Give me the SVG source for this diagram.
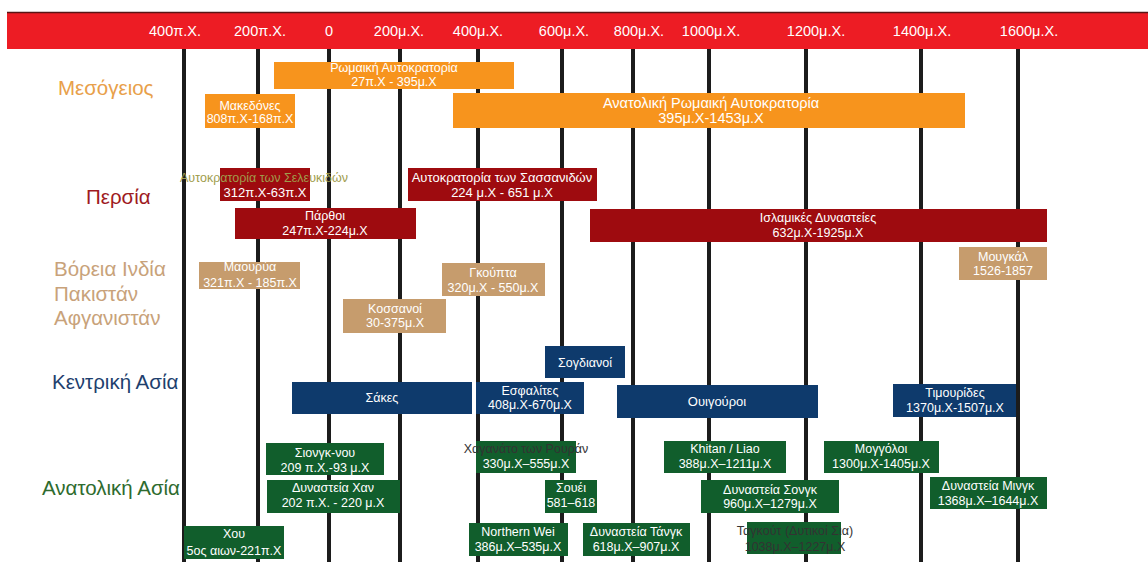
<svg xmlns="http://www.w3.org/2000/svg" width="1148" height="562" viewBox="0 0 1148 562">
<style>
text{font-family:"Liberation Sans","DejaVu Sans",sans-serif;text-anchor:middle}
.hd{fill:#fff;font-size:14.5px}
.cat{font-size:20.5px;text-anchor:start}
.w{fill:#fff;font-size:12.5px}
.wl{fill:#fff;font-size:14.5px}
.wm{fill:#fff;font-size:13px}
.dk{fill:#333;font-size:12.5px}
.ol{fill:#A09C4C;font-size:12.5px}
.o{fill:#F7941D}
.r{fill:#9E0B0F}
.t{fill:#C69C6D}
.b{fill:#0E3A6C}
.g{fill:#115E2C}
.grid line{stroke:#1c1c1c;stroke-width:4}
</style>
<rect width="1148" height="562" fill="#fff"/>
<g id="header">
<rect x="7" y="12" width="1141" height="37" fill="#ED1C24"/>
<line x1="7" y1="12.5" x2="1148" y2="12.5" stroke="#5a1414" stroke-width="1.5"/>
<text class="hd" x="175" y="36">400π.Χ.</text>
<text class="hd" x="260" y="36">200π.Χ.</text>
<text class="hd" x="329" y="36">0</text>
<text class="hd" x="399" y="36">200μ.Χ.</text>
<text class="hd" x="478" y="36">400μ.Χ.</text>
<text class="hd" x="564" y="36">600μ.Χ.</text>
<text class="hd" x="639" y="36">800μ.Χ.</text>
<text class="hd" x="711" y="36">1000μ.Χ.</text>
<text class="hd" x="816" y="36">1200μ.Χ.</text>
<text class="hd" x="922" y="36">1400μ.Χ.</text>
<text class="hd" x="1029" y="36">1600μ.Χ.</text>
</g>
<g id="gridlines" class="grid">
<line x1="184" y1="49" x2="184" y2="562"/>
<line x1="258" y1="49" x2="258" y2="562"/>
<line x1="329" y1="49" x2="329" y2="562"/>
<line x1="400" y1="49" x2="400" y2="562"/>
<line x1="478" y1="49" x2="478" y2="562"/>
<line x1="562" y1="49" x2="562" y2="562"/>
<line x1="633" y1="49" x2="633" y2="562"/>
<line x1="709" y1="49" x2="709" y2="562"/>
<line x1="806" y1="49" x2="806" y2="562"/>
<line x1="921" y1="49" x2="921" y2="562"/>
<line x1="1018" y1="49" x2="1018" y2="562"/>
</g>
<g id="categories">
<text class="cat" x="58" y="95" fill="#E8A04A">Μεσόγειος</text>
<text class="cat" x="86" y="204" fill="#9E1B1E">Περσία</text>
<text class="cat" x="54" y="276" fill="#C8A27A">Βόρεια Ινδία</text>
<text class="cat" x="54" y="301" fill="#C8A27A">Πακιστάν</text>
<text class="cat" x="54" y="325" fill="#C8A27A">Αφγανιστάν</text>
<text class="cat" x="52" y="389" fill="#1E3F6E">Κεντρική Ασία</text>
<text class="cat" x="42" y="495" fill="#2E6B2E">Ανατολική Ασία</text>
</g>
<g id="romaiki"><rect class="o" x="274" y="62" width="240" height="27"/><text class="w" x="394" y="72">Ρωμαική Αυτοκρατορία</text><text class="w" x="394" y="86">27π.Χ - 395μ.Χ</text></g>
<g id="makedones"><rect class="o" x="205" y="94" width="90" height="34"/><text class="w" x="250" y="110">Μακεδόνες</text><text class="w" x="250" y="123">808π.Χ-168π.Χ</text></g>
<g id="anatoliki-romaiki"><rect class="o" x="453" y="93" width="512" height="35"/><text class="wl" x="711" y="108">Ανατολική Ρωμαική Αυτοκρατορία</text><text class="wl" x="711" y="123">395μ.Χ-1453μ.Χ</text></g>
<g id="seleukides"><rect class="r" x="220" y="168" width="90" height="33"/><text class="ol" x="264" y="182">Αυτοκρατορία των Σελευκιδών</text><text class="wm" x="265" y="197">312π.Χ-63π.Χ</text></g>
<g id="sassanides"><rect class="r" x="408" y="168" width="189" height="33"/><text class="wm" x="502" y="182">Αυτοκρατορία των Σασσανιδών</text><text class="wm" x="502" y="197">224 μ.Χ - 651 μ.Χ</text></g>
<g id="parthoi"><rect class="r" x="235" y="208" width="181" height="31"/><text class="w" x="325" y="220">Πάρθοι</text><text class="w" x="325" y="235">247π.Χ-224μ.Χ</text></g>
<g id="islamikes"><rect class="r" x="590" y="209" width="457" height="33"/><text class="w" x="818" y="222">Ισλαμικές Δυναστείες</text><text class="w" x="818" y="237">632μ.Χ-1925μ.Χ</text></g>
<g id="maourya"><rect class="t" x="199" y="262" width="101" height="27"/><text class="w" x="250" y="271">Μαουρύα</text><text class="w" x="250" y="287">321π.Χ - 185π.Χ</text></g>
<g id="gkoupta"><rect class="t" x="442" y="263" width="103" height="33"/><text class="w" x="493" y="277">Γκούπτα</text><text class="w" x="493" y="292">320μ.Χ - 550μ.Χ</text></g>
<g id="kossanoi"><rect class="t" x="343" y="299" width="103" height="34"/><text class="w" x="395" y="313">Κοσσανοί</text><text class="w" x="395" y="327">30-375μ.Χ</text></g>
<g id="mougkal"><rect class="t" x="959" y="247" width="88" height="33"/><text class="w" x="1003" y="261">Μουγκάλ</text><text class="w" x="1003" y="275">1526-1857</text></g>
<g id="sogdianoi"><rect class="b" x="545" y="346" width="80" height="32"/><text class="w" x="585" y="367">Σογδιανοί</text></g>
<g id="sakes"><rect class="b" x="292" y="382" width="180" height="32"/><text class="w" x="382" y="402">Σάκες</text></g>
<g id="esfalites"><rect class="b" x="476" y="382" width="108" height="32"/><text class="w" x="530" y="395">Εσφαλίτες</text><text class="w" x="530" y="409">408μ.Χ-670μ.Χ</text></g>
<g id="ouigouroi"><rect class="b" x="617" y="385" width="201" height="33"/><text class="wm" x="717" y="406">Ουιγούροι</text></g>
<g id="timourides"><rect class="b" x="893" y="384" width="123" height="33"/><text class="w" x="955" y="397">Τιμουρίδες</text><text class="w" x="955" y="412">1370μ.Χ-1507μ.Χ</text></g>
<g id="siongk-nou"><rect class="g" x="266" y="443" width="118" height="32"/><text class="w" x="325" y="457">Σιονγκ-νου</text><text class="w" x="325" y="472">209 π.Χ.-93 μ.Χ</text></g>
<g id="chan"><rect class="g" x="267" y="480" width="133" height="33"/><text class="w" x="333" y="492">Δυναστεία Χαν</text><text class="w" x="333" y="507">202 π.Χ. - 220 μ.Χ</text></g>
<g id="chou"><rect class="g" x="184" y="526" width="100" height="33"/><text class="w" x="234" y="538">Χου</text><text class="w" x="234" y="555">5ος αιων-221π.Χ</text></g>
<g id="rouran"><rect class="g" x="476" y="441" width="100" height="32"/><text class="dk" x="526" y="453">Χαγανάτο των Ρουράν</text><text class="w" x="526" y="468">330μ.Χ–555μ.Χ</text></g>
<g id="souei"><rect class="g" x="545" y="480" width="52" height="33"/><text class="w" x="571" y="492">Σουέι</text><text class="w" x="571" y="507">581–618</text></g>
<g id="northern-wei"><rect class="g" x="469" y="523" width="99" height="33"/><text class="w" x="518" y="536">Northern Wei</text><text class="w" x="518" y="551">386μ.Χ–535μ.Χ</text></g>
<g id="tang"><rect class="g" x="583" y="523" width="107" height="33"/><text class="w" x="636" y="536">Δυναστεία Τάνγκ</text><text class="w" x="636" y="551">618μ.Χ–907μ.Χ</text></g>
<g id="khitan"><rect class="g" x="664" y="441" width="122" height="32"/><text class="w" x="725" y="453">Khitan / Liao</text><text class="w" x="725" y="468">388μ.Χ–1211μ.Χ</text></g>
<g id="songk"><rect class="g" x="701" y="480" width="138" height="33"/><text class="w" x="770" y="494">Δυναστεία Σονγκ</text><text class="w" x="770" y="508">960μ.Χ–1279μ.Χ</text></g>
<g id="tangkout"><rect class="g" x="747" y="522" width="94" height="32"/><text class="dk" x="795" y="535">Ταγκούτ (Δυτικοί Σια)</text><text class="dk" x="795" y="551">1038μ.Χ–1227μ.Χ</text></g>
<g id="moggoloi"><rect class="g" x="824" y="441" width="115" height="32"/><text class="w" x="881" y="453">Μογγόλοι</text><text class="w" x="881" y="468">1300μ.Χ-1405μ.Χ</text></g>
<g id="mingk"><rect class="g" x="930" y="477" width="117" height="32"/><text class="w" x="988" y="490">Δυναστεία Μινγκ</text><text class="w" x="988" y="505">1368μ.Χ–1644μ.Χ</text></g>
</svg>
